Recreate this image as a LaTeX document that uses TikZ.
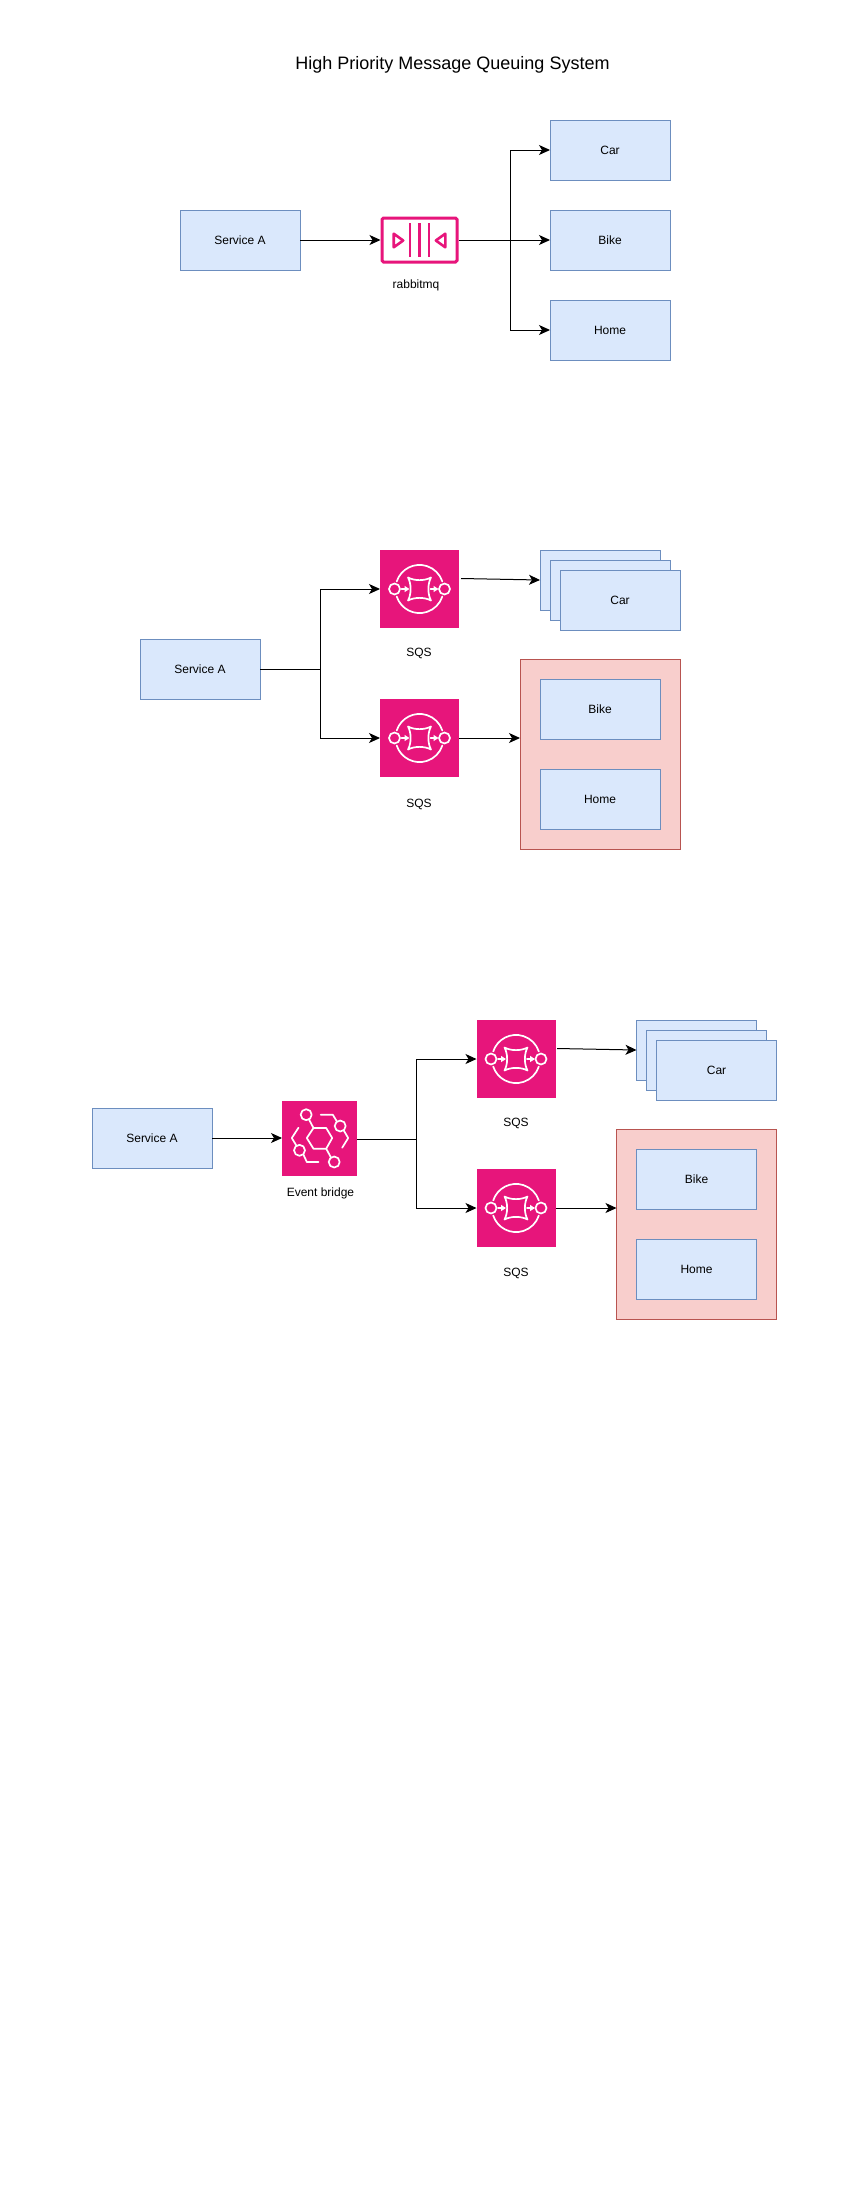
\documentclass[tikz,border=0pt]{standalone}
\usepackage{fontspec}
\setmainfont{Liberation Sans}
\usetikzlibrary{arrows.meta,calc}
\definecolor{bfill}{HTML}{DAE8FC}
\definecolor{bline}{HTML}{6C8EBF}
\definecolor{rfill}{HTML}{F8CECC}
\definecolor{rline}{HTML}{B85450}
\definecolor{awspink}{HTML}{E7157B}
\tikzset{
  x=1pt,y=-1pt,
  bluebox/.style={draw=bline,fill=bfill,line width=1pt,minimum width=120pt,minimum height=60pt,inner sep=0pt,outer sep=0pt,font=\fontsize{12}{14}\selectfont},
  redbox/.style={draw=rline,fill=rfill,line width=1pt,minimum width=160pt,minimum height=190pt,inner sep=0pt,outer sep=0pt},
  sqsbox/.style={fill=awspink,draw=none,minimum width=79pt,minimum height=78pt,inner sep=0pt,outer sep=0pt},
  ebbox/.style={fill=awspink,draw=none,minimum width=75pt,minimum height=75pt,inner sep=0pt,outer sep=0pt},
  rabbitbox/.style={draw=awspink,fill=white,line width=3pt,rounded corners=1.5pt,minimum width=75pt,minimum height=44pt,inner sep=0pt,outer sep=1.5pt},
  lab/.style={inner sep=0pt,font=\fontsize{12}{14}\selectfont},
  conn/.style={draw=black,line width=1pt,-{Stealth[length=11pt,width=10pt,inset=3pt]}},
  plainconn/.style={draw=black,line width=1pt},
  glyph/.style={draw=white,line width=1.7pt,fill=none,line cap=round,line join=round},
  sqsglyph/.pic={
    \draw[glyph] (-22.8,-7.5) arc[start angle=198,end angle=342,radius=24];
    \draw[glyph] (-22.8,7.5) arc[start angle=162,end angle=18,radius=24];
    \draw[glyph] (-25,0) circle[radius=5.5];
    \draw[glyph] (25,0) circle[radius=5.5];
    \draw[glyph] (-11.5,-11.5) .. controls (-5,-8) and (5,-8) .. (11.5,-11.5)
       .. controls (8,-5) and (8,5) .. (11.5,11.5)
       .. controls (5,8) and (-5,8) .. (-11.5,11.5)
       .. controls (-8,5) and (-8,-5) .. (-11.5,-11.5) -- cycle;
    \draw[glyph,-{Stealth[length=5pt,width=6pt,inset=0pt,fill=white]}] (-18,0) -- (-10,0);
    \draw[glyph,-{Stealth[length=5pt,width=6pt,inset=0pt,fill=white]}] (11,0) -- (19,0);
  },
  ebglyph/.pic={
    \draw[glyph] (-12.7,0) -- (-6,-10) -- (6.7,-10) -- (12.7,0) -- (6.7,10.7) -- (-6,10.7) -- cycle;
    \draw[glyph] (-13.3,-23.3) circle[radius=5.5];
    \draw[glyph] (14.7,24) circle[radius=5.5];
    \draw[glyph] (20.7,-12) circle[radius=5.5];
    \draw[glyph] (-20,12.3) circle[radius=5.5];
    \draw[glyph] (-10.5,-18.5) -- (-6,-10);
    \draw[glyph] (6.7,10.7) -- (11.5,19.5);
    \draw[glyph] (1.3,-23.3) -- (13.3,-23.3) -- (17.3,-16.7);
    \draw[glyph] (24,-8) -- (28.7,0) -- (22.7,9.7);
    \draw[glyph] (-21,-10.3) -- (-27.7,0) -- (-23.3,7.3);
    \draw[glyph] (-16,16.7) -- (-12.7,24) -- (-1,24);
  },
  rabbitglyph/.pic={
    \draw[draw=awspink,line width=2.5pt] (-9.3,-17) -- (-9.3,17) (0,-17) -- (0,17) (9.3,-17) -- (9.3,17);
    \draw[draw=awspink,line width=2.6pt,line join=round] (-25.8,-6.3) -- (-25.8,7.3) -- (-16.3,0.5) -- cycle;
    \draw[draw=awspink,line width=2.6pt,line join=round] (25.8,-6.3) -- (25.8,7.3) -- (16.3,0.5) -- cycle;
  }
}
\begin{document}
\begin{tikzpicture}
\useasboundingbox[fill=white] (0,0) rectangle (850,2200);
\node[inner sep=0pt,font=\fontsize{18}{22}\selectfont] (title) at (452.5,65) {High Priority Message Queuing System};

% Row 1
\node[bluebox] (a1) at (240,240) {Service A};
\node[rabbitbox] (rabbit) at (419.5,240) {};
\pic at (rabbit) {rabbitglyph};
\node[lab] (rabbitlab) at (416,285.5) {rabbitmq};
\node[bluebox] (car1) at (610,150) {Car};
\node[bluebox] (bike1) at (610,240) {Bike};
\node[bluebox] (home1) at (610,330) {Home};
\coordinate (j1) at (510,240);
\draw[conn] (a1) -- (rabbit);
\draw[plainconn] (rabbit) -- (j1);
\draw[conn] (j1) |- (car1);
\draw[conn] (j1) -- (bike1);
\draw[conn] (j1) |- (home1);

% Row 2
\node[bluebox] (a2) at (200,669) {Service A};
\node[sqsbox] (sqs2a) at (419.5,589) {};
\pic at (sqs2a) {sqsglyph};
\node[lab] (sqs2alab) at (419,653.5) {SQS};
\node[sqsbox] (sqs2b) at (419.5,738) {};
\pic at (sqs2b) {sqsglyph};
\node[lab] (sqs2blab) at (419,804.5) {SQS};
\node[bluebox] (car2c) at (600,580) {};
\node[bluebox] (car2b) at (610,590) {};
\node[bluebox] (car2a) at (620,600) {Car};
\node[redbox] (red2) at (600,754) {};
\node[bluebox] (bike2) at (600,709) {Bike};
\node[bluebox] (home2) at (600,799) {Home};
\coordinate (j2) at (320,669);
\coordinate (s2a) at (461,578.5);
\draw[plainconn] (a2) -- (j2);
\draw[conn] (j2) |- (sqs2a);
\draw[conn] (j2) |- (sqs2b);
\draw[conn] (s2a) -- (car2c.west);
\draw[conn] (sqs2b.east) -- (sqs2b.east -| red2.west);

% Row 3
\node[bluebox] (a3) at (152,1138) {Service A};
\node[ebbox] (eb) at (319.5,1138) {};
\pic at (eb) {ebglyph};
\node[lab] (eblab) at (320.5,1193.5) {Event bridge};
\node[sqsbox] (sqs3a) at (516,1059) {};
\pic at (sqs3a) {sqsglyph};
\node[lab] (sqs3alab) at (516,1123) {SQS};
\node[sqsbox] (sqs3b) at (516,1208) {};
\pic at (sqs3b) {sqsglyph};
\node[lab] (sqs3blab) at (516,1273.5) {SQS};
\node[bluebox] (car3c) at (696.5,1050) {};
\node[bluebox] (car3b) at (706.5,1060) {};
\node[bluebox] (car3a) at (716.5,1070) {Car};
\node[redbox] (red3) at (696.5,1224) {};
\node[bluebox] (bike3) at (696.5,1179) {Bike};
\node[bluebox] (home3) at (696.5,1269) {Home};
\coordinate (j3) at (416.5,1139);
\coordinate (s3a) at (557,1048.5);
\draw[conn] (a3) -- (eb);
\draw[plainconn] (eb.east |- j3) -- (j3);
\draw[conn] (j3) |- (sqs3a);
\draw[conn] (j3) |- (sqs3b);
\draw[conn] (s3a) -- (car3c.west);
\draw[conn] (sqs3b.east) -- (sqs3b.east -| red3.west);
\end{tikzpicture}
\end{document}
